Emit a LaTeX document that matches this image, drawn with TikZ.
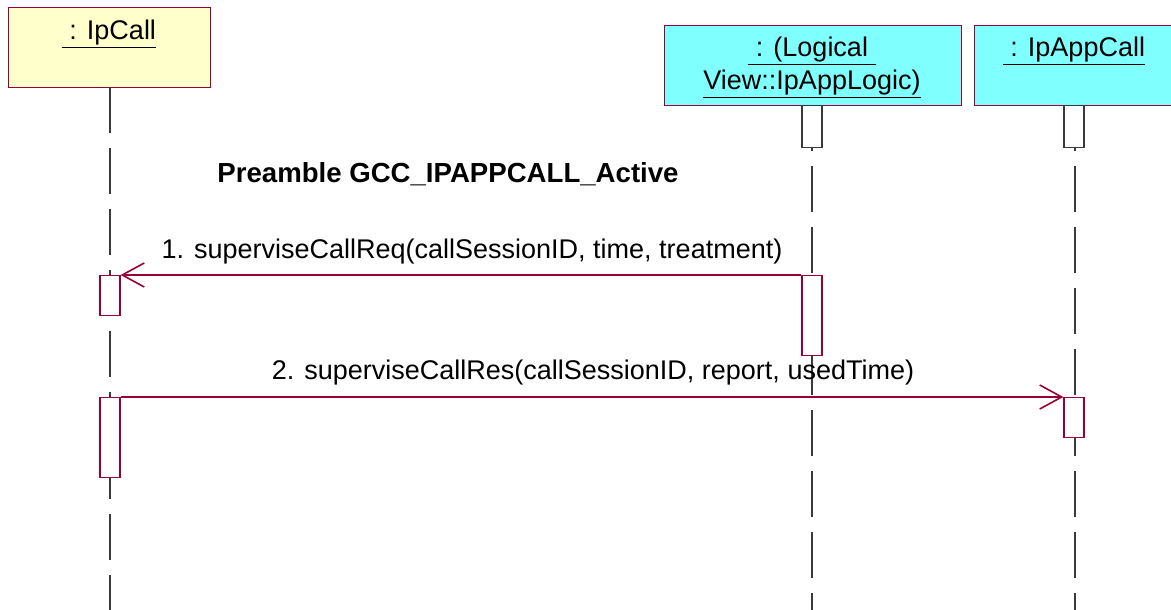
\documentclass[tikz,border=0pt]{standalone}
\usepackage{fontspec}
\setmainfont{Liberation Sans}
\usetikzlibrary{arrows.meta}
\definecolor{RoseLine}{HTML}{990033}
\definecolor{ObjYellow}{HTML}{FFFFCC}
\definecolor{ObjCyan}{HTML}{80FFFF}
\definecolor{LifeGray}{HTML}{3A3A3A}

\tikzset{
  objbox/.style={draw=RoseLine, line width=1pt, inner sep=0pt, anchor=north west, minimum height=80pt},
  actbar/.style={draw=RoseLine, fill=white, line width=1.2pt, inner sep=0pt, anchor=north, minimum width=20pt},
  topbar/.style={actbar, draw=LifeGray},
  lifeline/.style={draw=LifeGray, line width=1.1pt, dash pattern=on 46pt off 15pt},
  msg/.style={draw=RoseLine, line width=1.3pt, -{Straight Barb[length=22pt, width=24pt, line width=1.6pt]}},
  lbl/.style={anchor=base, inner sep=0pt, font=\fontsize{27}{33}\selectfont},
}

\begin{document}
\begin{tikzpicture}[x=1pt, y=-1pt]
\clip (0,0) rectangle (1171,610);

% --- OBJECTS ---
\node[objbox, fill=ObjYellow, minimum width=202pt] (ipcall) at (8,7) {};
\node[objbox, fill=ObjCyan, minimum width=297pt] (logic) at (664,25) {};
\node[objbox, fill=ObjCyan, minimum width=200pt] (appcall) at (974,25) {};
\node[lbl] (ipcallName) at (109,40) {\underline{\ : IpCall}};
\node[lbl] (logicName1) at (812,57) {\underline{\ : (Logical\ }};
\node[lbl] (logicName2) at (812,90) {\underline{View::IpAppLogic)}};
\node[lbl] (appcallName) at (1074,57) {\underline{\ : IpAppCall}};

% --- LIFELINES ---
\coordinate (ipcallEnd) at (110,610);
\coordinate (logicEnd) at (812,610);
\coordinate (appcallEnd) at (1075,610);
\draw[lifeline] (110,87) -- (ipcallEnd);
\draw[lifeline] (812,105) -- (logicEnd);
\draw[lifeline] (1075,105) -- (appcallEnd);

% --- ACTIVATIONS ---
\node[topbar, minimum height=42pt] (logicTop) at (812,105) {};
\node[topbar, minimum height=42pt] (appTop) at (1074,105) {};
\node[actbar, minimum height=40pt] (ipcallAct1) at (110,275) {};
\node[actbar, minimum height=80pt] (logicAct) at (812,275) {};
\node[actbar, minimum height=80pt] (ipcallAct2) at (110,397) {};
\node[actbar, minimum height=40pt] (appAct) at (1074,397) {};

% --- TITLE ---
\node[lbl, font=\fontsize{27.6}{33}\selectfont\bfseries] (title) at (448,182) {Preamble GCC\_IPAPPCALL\_Active};

% --- MESSAGES ---
\draw[msg] (logicAct.north west) -- (ipcallAct1.north east);
\node[lbl] (msgReq) at (472,258) {1. superviseCallReq(callSessionID, time, treatment)};
\draw[msg] (ipcallAct2.north east) -- (appAct.north west);
\node[lbl] (msgRes) at (593,379) {2. superviseCallRes(callSessionID, report, usedTime)};

\end{tikzpicture}
\end{document}
